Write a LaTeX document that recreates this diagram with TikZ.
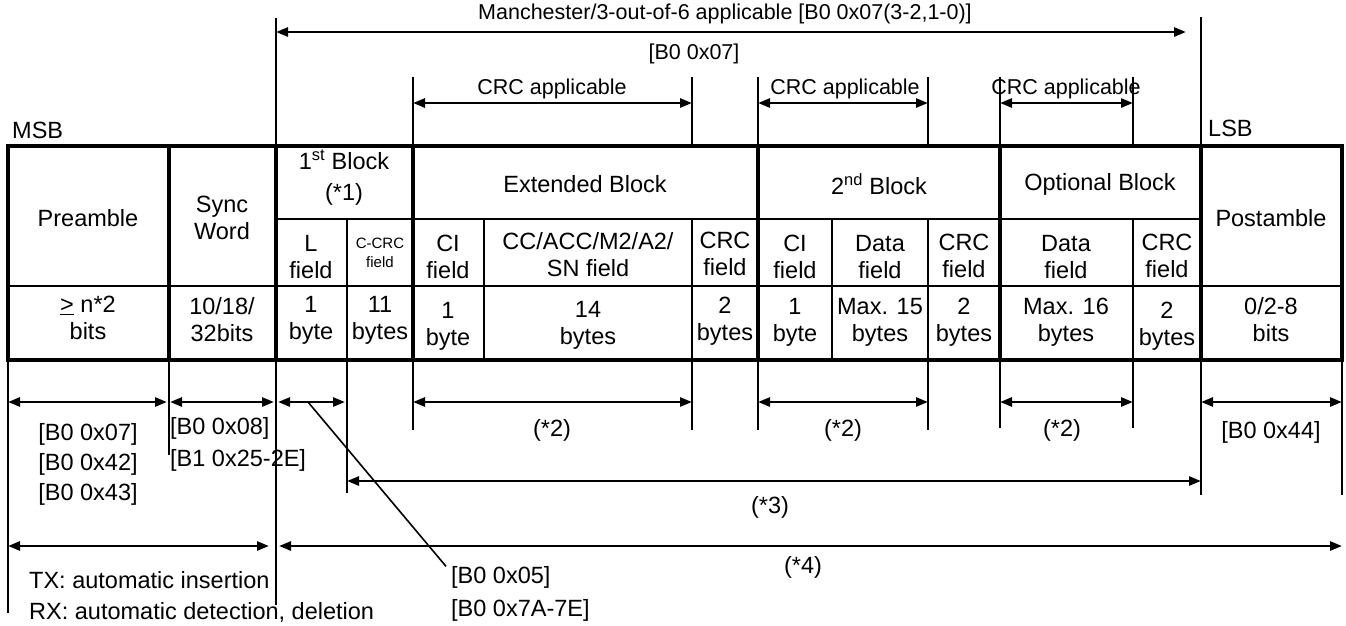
\documentclass[tikz,border=0pt]{standalone}
\usepackage{fontspec}
\setmainfont{Liberation Sans}
\usepackage{xcolor}
\usepackage{tikz}
\usetikzlibrary{arrows.meta,calc,positioning}
\definecolor{lineblack}{HTML}{000000}
\tikzset{every node/.append style={font=\fontsize{23.5}{27}\selectfont,inner sep=0pt,align=center,text=lineblack}}
\tikzset{
  boxthick/.style={lineblack,line width=4.5pt},
  blockline/.style={lineblack,line width=3.5pt},
  subline/.style={lineblack,line width=1.8pt},
  markline/.style={lineblack,line width=1.6pt},
  dimline/.style={<->,lineblack,line width=2.6pt},
  toplbl/.style={font=\fontsize{21.5}{26}\selectfont},
  smalllbl/.style={font=\fontsize{15}{19}\selectfont}
}

\begin{document}
\begin{tikzpicture}[x=1pt,y=-1pt,>={Triangle[length=12pt,width=9pt]}]
  \useasboundingbox (0,0) rectangle (1346,625);
  \coordinate (xpre)   at (8,146);
  \coordinate (xsync)  at (169,146);
  \coordinate (xfirst) at (276,146);
  \coordinate (xccrc)  at (347,146);
  \coordinate (xext)   at (413,146);
  \coordinate (xcc)    at (484,146);
  \coordinate (xecrc)  at (692,146);
  \coordinate (xsec)   at (758,146);
  \coordinate (xdata)  at (832,146);
  \coordinate (xscrc)  at (928,146);
  \coordinate (xopt)   at (1000,146);
  \coordinate (xocrc)  at (1133,146);
  \coordinate (xpost)  at (1201,146);
  \coordinate (xend)   at (1342,146);
  \coordinate (yhead)  at (0,219);
  \coordinate (ysize)  at (0,286);
  \coordinate (ybot)   at (0,360);
  \coordinate (ytop)   at (0,32);
  \coordinate (ycrc)   at (0,103);
  \coordinate (ydim)   at (0,402);
  \coordinate (ytail)  at (0,481);
  \coordinate (yall)   at (0,546);

  \draw[subline] (xfirst |- yhead) -- (xpost |- yhead);
  \draw[subline] (xpre |- ysize) -- (xend |- ysize);
  \draw[subline] (xccrc |- yhead) -- (xccrc |- ybot);
  \draw[subline] (xcc |- yhead) -- (xcc |- ybot);
  \draw[subline] (xecrc |- yhead) -- (xecrc |- ybot);
  \draw[subline] (xdata |- yhead) -- (xdata |- ybot);
  \draw[subline] (xscrc |- yhead) -- (xscrc |- ybot);
  \draw[subline] (xocrc |- yhead) -- (xocrc |- ybot);
  \draw[blockline] (xsync) -- (xsync |- ybot);
  \draw[blockline] (xfirst) -- (xfirst |- ybot);
  \draw[blockline] (xext) -- (xext |- ybot);
  \draw[blockline] (xsec) -- (xsec |- ybot);
  \draw[blockline] (xopt) -- (xopt |- ybot);
  \draw[blockline] (xpost) -- (xpost |- ybot);
  \draw[boxthick] (xpre) rectangle (xend |- ybot);

  \draw[markline] (xfirst) -- ++(0,-128);
  \draw[markline] (xpost) -- ++(0,-129);
  \draw[markline] (xext) -- ++(0,-69);
  \draw[markline] (xecrc) -- ++(0,-69);
  \draw[markline] (xsec) -- ++(0,-69);
  \draw[markline] (xscrc) -- ++(0,-69);
  \draw[markline] (xopt) -- ++(0,-69);
  \draw[markline] (xocrc) -- ++(0,-69);
  \draw[markline] (xpre |- ybot) -- ++(0,253);
  \draw[markline] (xsync |- ybot) -- ++(0,95);
  \draw[markline] (xfirst |- ybot) -- ++(0,245);
  \draw[markline] (xccrc |- ybot) -- ++(0,133);
  \draw[markline] (xext |- ybot) -- ++(0,70);
  \draw[markline] (xecrc |- ybot) -- ++(0,70);
  \draw[markline] (xsec |- ybot) -- ++(0,70);
  \draw[markline] (xscrc |- ybot) -- ++(0,70);
  \draw[markline] (xopt |- ybot) -- ++(0,68);
  \draw[markline] (xocrc |- ybot) -- ++(0,68);
  \draw[markline] (xpost |- ybot) -- ++(0,135);
  \draw[markline] (xend |- ybot) -- ++(0,135);

  \draw[dimline] (xfirst |- ytop) -- ($(xpost |- ytop)+(-15,0)$);
  \draw[dimline] (xext |- ycrc) -- (xecrc |- ycrc);
  \draw[dimline] (xsec |- ycrc) -- (xscrc |- ycrc);
  \draw[dimline] (xopt |- ycrc) -- (xocrc |- ycrc);
  \draw[dimline] (xpre |- ydim) -- ($(xsync |- ydim)+(-2,0)$);
  \draw[dimline] ($(xsync |- ydim)+(1,0)$) -- ($(xfirst |- ydim)+(-2,0)$);
  \draw[dimline] ($(xfirst |- ydim)+(2,0)$) -- ($(xccrc |- ydim)+(-2,0)$);
  \draw[dimline] (xext |- ydim) -- (xecrc |- ydim);
  \draw[dimline] (xsec |- ydim) -- (xscrc |- ydim);
  \draw[dimline] (xopt |- ydim) -- (xocrc |- ydim);
  \draw[dimline] (xpost |- ydim) -- (xend |- ydim);
  \draw[dimline] (xccrc |- ytail) -- (xpost |- ytail);
  \draw[dimline] (xpre |- yall) -- ($(xfirst |- yall)+(-7,0)$);
  \draw[dimline] ($(xfirst |- yall)+(3,0)$) -- (xend |- yall);

  \node[toplbl] (manch) at (725,14) {Manchester/3-out-of-6 applicable [B0 0x07(3-2,1-0)]};
  \node[toplbl] (mantop) at (694,54) {[B0 0x07]};
  \node[toplbl] (crcext) at (552,89) {CRC applicable};
  \node[toplbl] (crcsec) at (845,89) {CRC applicable};
  \node[toplbl] (crcopt) at (1066,89) {CRC applicable};
  \node[anchor=west] (msb) at (12,130) {MSB};
  \node[anchor=west] (lsb) at (1208,128) {LSB};

  \node (pre) at (88,218) {Preamble};
  \node (sync) at (222,218) {Sync\\Word};
  \node[font=\fontsize{23.5}{31}\selectfont] (first) at (344,178) {1\textsuperscript{st} Block\\(*1)};
  \node (ext) at (585,184) {Extended Block};
  \node (sec) at (879,184) {2\textsuperscript{nd} Block};
  \node (opt) at (1100,184) {Optional Block};
  \node (post) at (1271,218) {Postamble};

  \node (lf) at (311,257) {L\\field};
  \node[smalllbl] (ccrcf) at (380,253) {C-CRC\\field};
  \node (cif) at (448,257) {CI\\field};
  \node (ccf) at (588,255) {CC/ACC/M2/A2/\\SN field};
  \node (ecrcf) at (725,254) {CRC\\field};
  \node (scif) at (795,257) {CI\\field};
  \node (sdataf) at (880,257) {Data\\field};
  \node (scrcf) at (964,256) {CRC\\field};
  \node (odataf) at (1066,257) {Data\\field};
  \node (ocrcf) at (1167,256) {CRC\\field};

  \node (presz) at (88,318) {\underline{>} n*2\\bits};
  \node (syncsz) at (222,320) {10/18/\\32bits};
  \node (lsz) at (311,320) {1\\byte};
  \node (ccrcsz) at (380,320) {11\\bytes};
  \node (cisz) at (448,326) {1\\byte};
  \node (ccsz) at (588,325) {14\\bytes};
  \node (ecrcsz) at (725,321) {2\\bytes};
  \node (scisz) at (795,322) {1\\byte};
  \node (sdatasz) at (880,322) {Max. 15\\bytes};
  \node (scrcsz) at (964,322) {2\\bytes};
  \node (odatasz) at (1066,322) {Max. 16\\bytes};
  \node (ocrcsz) at (1167,326) {2\\bytes};
  \node (postsz) at (1271,320) {0/2-8\\bits};

  \node[font=\fontsize{23.5}{30}\selectfont] (preref) at (88,464) {[B0 0x07]\\{}[B0 0x42]\\{}[B0 0x43]};
  \node[anchor=west,align=left,font=\fontsize{23.5}{32}\selectfont] (syncref) at (170,444) {[B0 0x08]\\{}[B1 0x25-2E]};
  \node (extref) at (552,430) {(*2)};
  \node (secref) at (843,430) {(*2)};
  \node (optref) at (1062,430) {(*2)};
  \node (postref) at (1271,432) {[B0 0x44]};
  \node (tailref) at (770,507) {(*3)};
  \node (allref) at (803,567) {(*4)};
  \node[anchor=west,align=left,font=\fontsize{23.5}{31}\selectfont] (autoref) at (29,597) {TX: automatic insertion\\RX: automatic detection, deletion};
  \node[anchor=west,align=left,font=\fontsize{23.5}{33}\selectfont] (lref) at (451,594) {[B0 0x05]\\{}[B0 0x7A-7E]};
  \coordinate (lpick) at (308,402);
  \draw[markline] (lpick) -- ($(lref.north west)+(-5,0)$);
\end{tikzpicture}
\end{document}
